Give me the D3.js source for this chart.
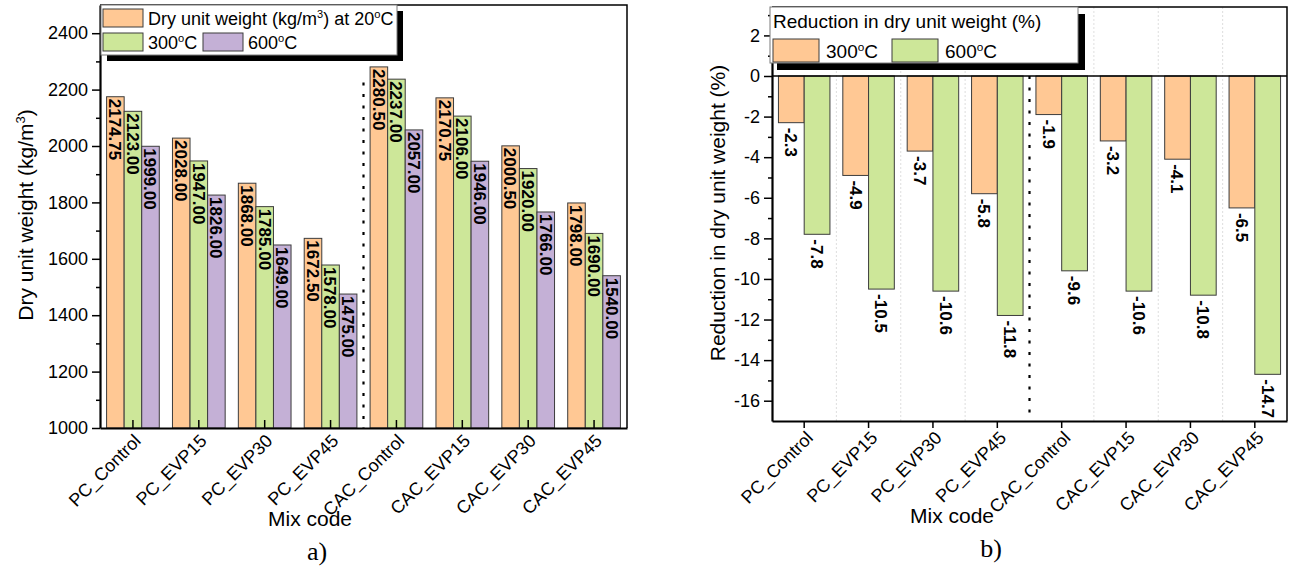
<!DOCTYPE html>
<html>
<head>
<meta charset="utf-8">
<script src="https://cdn.jsdelivr.net/npm/d3@7"></script>
<style>
  body { margin: 0; background: #fff; }
  svg { display: block; background: #fff; }
  text { font-family: "Liberation Sans", Arial, sans-serif; fill: #000; }
</style>
</head>
<body>
<svg id="chart" width="1290" height="571"></svg>
<script>
// ---- data ----
const mixCodes = ["PC_Control", "PC_EVP15", "PC_EVP30", "PC_EVP45",
                  "CAC_Control", "CAC_EVP15", "CAC_EVP30", "CAC_EVP45"];
const dryWeight20  = [2174.75, 2028.00, 1868.00, 1672.50, 2280.50, 2170.75, 2000.50, 1798.00];
const dryWeight300 = [2123.00, 1947.00, 1785.00, 1578.00, 2237.00, 2106.00, 1920.00, 1690.00];
const dryWeight600 = [1999.00, 1826.00, 1649.00, 1475.00, 2057.00, 1946.00, 1766.00, 1540.00];
const reduction300 = [-2.3, -4.9, -3.7, -5.8, -1.9, -3.2, -4.1, -6.5];
const reduction600 = [-7.8, -10.5, -10.6, -11.8, -9.6, -10.6, -10.8, -14.7];
const weightTicks    = [1000, 1200, 1400, 1600, 1800, 2000, 2200, 2400];
const weightMinor    = [1100, 1300, 1500, 1700, 1900, 2100, 2300];
const reductionTicks = [-16, -14, -12, -10, -8, -6, -4, -2, 0, 2];
const reductionMinor = [-15, -13, -11, -9, -7, -5, -3, -1, 1, 3];

const COL20 = "#FFC894", COL300 = "#CDE799", COL600 = "#C4B0D6";
const BAR_STROKE = "#3c3c3c";

const svg = d3.select("#chart");

// "20" + raised small "o" + "C"
function tempLabel(sel, number, size) {
  sel.append("tspan").text(number);
  sel.append("tspan").attr("font-size", size * 0.62).attr("dy", -size * 0.38).text("o");
  sel.append("tspan").attr("dy", size * 0.38).text("C");
}

function legendBox(x, y, w, h, off) {
  svg.append("rect").attr("x", x + off).attr("y", y + off).attr("width", w).attr("height", h).attr("fill", "#000");
  svg.append("rect").attr("x", x).attr("y", y).attr("width", w).attr("height", h)
     .attr("fill", "#fff").attr("stroke", "#7a7a7a").attr("stroke-width", 1);
}

function swatch(x, y, w, h, color) {
  svg.append("rect").attr("x", x).attr("y", y).attr("width", w).attr("height", h)
     .attr("fill", color).attr("stroke", BAR_STROKE).attr("stroke-width", 1);
}

const plainNum = d => String(d);

// ================= a) dry unit weight =================
const A = { x0: 100, x1: 627, y0: 5, y1: 428 };
const xA = d3.scaleBand().domain(mixCodes).range([A.x0, A.x1]).paddingInner(0.2).paddingOuter(0.1);
const subA = d3.scaleBand().domain([0, 1, 2]).range([0, xA.bandwidth()]);
const yA = d3.scaleLinear().domain([1000, 2500]).range([A.y1, A.y0]);

const seriesA = [dryWeight20, dryWeight300, dryWeight600];
const colorsA = [COL20, COL300, COL600];
const gA = svg.append("g");

seriesA.forEach((vals, s) => {
  const g = gA.append("g");
  g.selectAll("rect").data(vals).join("rect")
    .attr("x", (d, i) => xA(mixCodes[i]) + subA(s))
    .attr("y", d => yA(d))
    .attr("width", subA.bandwidth())
    .attr("height", d => yA(1000) - yA(d))
    .attr("fill", colorsA[s]).attr("stroke", BAR_STROKE).attr("stroke-width", 1);
  g.selectAll("text").data(vals).join("text")
    .attr("transform", (d, i) => `translate(${xA(mixCodes[i]) + subA(s) + subA.bandwidth() / 2},${yA(d) + 2}) rotate(90)`)
    .attr("dy", "0.36em")
    .attr("font-size", 17).attr("font-weight", "bold")
    .text(d => d.toFixed(2));
});

// separator between PC and CAC mixes
const sepA = xA(mixCodes[4]) - xA.step() * xA.paddingInner() / 2;
gA.append("line").attr("x1", sepA).attr("x2", sepA).attr("y1", yA(2225)).attr("y2", A.y1)
  .attr("stroke", "#000").attr("stroke-width", 2.2).attr("stroke-dasharray", "3,8.5");

// frame
gA.append("path").attr("d", `M${A.x0},${A.y0}H${A.x1}V${A.y1}`)
  .attr("fill", "none").attr("stroke", "#000").attr("stroke-width", 1.5);

// y axis
const yAxisA = gA.append("g").attr("transform", `translate(${A.x0},0)`)
  .call(d3.axisLeft(yA).tickValues(weightTicks).tickFormat(plainNum).tickSize(8).tickSizeOuter(0).tickPadding(4));
gA.append("g").attr("transform", `translate(${A.x0},0)`)
  .call(d3.axisLeft(yA).tickValues(weightMinor).tickSize(4).tickSizeOuter(0).tickFormat(""))
  .select(".domain").remove();
yAxisA.select(".domain").attr("stroke-width", 2.2);
yAxisA.selectAll("text").attr("font-size", 18);
gA.selectAll(".tick line").attr("stroke-width", 1.5);

// x axis (ticks inward)
const xAxisA = gA.append("g").attr("transform", `translate(0,${A.y1})`)
  .call(d3.axisBottom(xA).tickSize(-8).tickSizeOuter(0).tickFormat(""));
xAxisA.select(".domain").attr("stroke-width", 2.2);
xAxisA.selectAll(".tick line").attr("stroke-width", 1.5);
gA.selectAll(".xlab").data(mixCodes).join("text").attr("class", "xlab")
  .attr("transform", d => `translate(${xA(d) + xA.bandwidth() / 2 + 9},${A.y1 + 14}) rotate(-45)`)
  .attr("text-anchor", "end").attr("font-size", 18).text(d => d);

// axis titles
const yTitleA = gA.append("text").attr("transform", "translate(33,215) rotate(-90)")
  .attr("text-anchor", "middle").attr("font-size", 21);
yTitleA.append("tspan").text("Dry unit weight (kg/m");
yTitleA.append("tspan").attr("font-size", 13).attr("dy", -8).text("3");
yTitleA.append("tspan").attr("dy", 8).text(")");
gA.append("text").attr("x", 310).attr("y", 526).attr("text-anchor", "middle").attr("font-size", 21).text("Mix code");
gA.append("text").attr("x", 317).attr("y", 560).attr("text-anchor", "middle").attr("font-size", 26)
  .style("font-family", "Liberation Serif, Times New Roman, serif").text("a)");

// legend
legendBox(101, 5, 296, 50, 6);
swatch(103, 9, 40, 18, COL20);
const lgA1 = svg.append("text").attr("x", 148).attr("y", 25).attr("font-size", 18);
lgA1.append("tspan").text("Dry unit weight (kg/m");
lgA1.append("tspan").attr("font-size", 11).attr("dy", -7).text("3");
lgA1.append("tspan").attr("dy", 7).text(") at ");
tempLabel(lgA1, "20", 18);
swatch(103, 33, 40, 18, COL300);
tempLabel(svg.append("text").attr("x", 148).attr("y", 49).attr("font-size", 18), "300", 18);
swatch(203, 33, 40, 18, COL600);
tempLabel(svg.append("text").attr("x", 248).attr("y", 49).attr("font-size", 18), "600", 18);

// ================= b) reduction in dry unit weight =================
const B = { x0: 772, x1: 1287, y0: 7, y1: 421 };
const xB = d3.scaleBand().domain(mixCodes).range([B.x0, B.x1]).paddingInner(0.2).paddingOuter(0.1);
const subB = d3.scaleBand().domain([0, 1]).range([0, xB.bandwidth()]);
const yB = d3.scaleLinear().domain([-17, 3.4]).range([B.y1, B.y0]);
const gB = svg.append("g");

// light vertical grid between groups
const bounds = d3.range(1, mixCodes.length).map(k => xB(mixCodes[k]) - xB.step() * xB.paddingInner() / 2);
gB.selectAll(".grid").data(bounds.filter((b, k) => k !== 3)).join("line").attr("class", "grid")
  .attr("x1", d => d).attr("x2", d => d).attr("y1", B.y0).attr("y2", B.y1)
  .attr("stroke", "#d6d6d6").attr("stroke-width", 0.8).attr("stroke-dasharray", "2,2");

const seriesB = [reduction300, reduction600];
const colorsB = [COL20, COL300];
seriesB.forEach((vals, s) => {
  const g = gB.append("g");
  g.selectAll("rect").data(vals).join("rect")
    .attr("x", (d, i) => xB(mixCodes[i]) + subB(s))
    .attr("y", yB(0))
    .attr("width", subB.bandwidth())
    .attr("height", d => yB(d) - yB(0))
    .attr("fill", colorsB[s]).attr("stroke", BAR_STROKE).attr("stroke-width", 1);
  g.selectAll("text").data(vals).join("text")
    .attr("transform", (d, i) => `translate(${xB(mixCodes[i]) + subB(s) + subB.bandwidth() / 2},${yB(d) + 5}) rotate(90)`)
    .attr("dy", "0.36em")
    .attr("font-size", 17).attr("font-weight", "bold")
    .text(d => d.toFixed(1));
});

// separator between PC and CAC mixes
gB.append("line").attr("x1", bounds[3]).attr("x2", bounds[3]).attr("y1", yB(0)).attr("y2", B.y1)
  .attr("stroke", "#000").attr("stroke-width", 2.2).attr("stroke-dasharray", "3,8.5");

// zero line and frame
gB.append("line").attr("x1", B.x0).attr("x2", B.x1).attr("y1", yB(0)).attr("y2", yB(0))
  .attr("stroke", "#000").attr("stroke-width", 1.5);
gB.append("path").attr("d", `M${B.x0},${B.y0}H${B.x1}V${B.y1}`)
  .attr("fill", "none").attr("stroke", "#000").attr("stroke-width", 1.5);

const yAxisB = gB.append("g").attr("transform", `translate(${B.x0},0)`)
  .call(d3.axisLeft(yB).tickValues(reductionTicks).tickFormat(plainNum).tickSize(8).tickSizeOuter(0).tickPadding(4));
gB.append("g").attr("transform", `translate(${B.x0},0)`)
  .call(d3.axisLeft(yB).tickValues(reductionMinor).tickSize(4).tickSizeOuter(0).tickFormat(""))
  .select(".domain").remove();
yAxisB.select(".domain").attr("stroke-width", 2.2);
yAxisB.selectAll("text").attr("font-size", 18);

const xAxisB = gB.append("g").attr("transform", `translate(0,${B.y1})`)
  .call(d3.axisBottom(xB).tickSize(7).tickSizeOuter(0).tickFormat(""));
xAxisB.select(".domain").attr("stroke-width", 2.2);
gB.selectAll(".tick line").attr("stroke-width", 1.5);
gB.selectAll(".xlab").data(mixCodes).join("text").attr("class", "xlab")
  .attr("transform", d => `translate(${xB(d) + xB.bandwidth() / 2 + 10},${B.y1 + 18}) rotate(-45)`)
  .attr("text-anchor", "end").attr("font-size", 18).text(d => d);

gB.append("text").attr("transform", "translate(725,213) rotate(-90)")
  .attr("text-anchor", "middle").attr("font-size", 21).text("Reduction in dry unit weight (%)");
gB.append("text").attr("x", 952).attr("y", 523).attr("text-anchor", "middle").attr("font-size", 21).text("Mix code");
gB.append("text").attr("x", 991).attr("y", 557).attr("text-anchor", "middle").attr("font-size", 26)
  .style("font-family", "Liberation Serif, Times New Roman, serif").text("b)");

// legend
legendBox(770, 7, 308, 56, 7);
svg.append("text").attr("x", 773).attr("y", 28).attr("font-size", 19).text("Reduction in dry unit weight (%)");
swatch(773, 39, 46, 23, COL20);
tempLabel(svg.append("text").attr("x", 826).attr("y", 58).attr("font-size", 19), "300", 19);
swatch(892, 39, 46, 23, COL300);
tempLabel(svg.append("text").attr("x", 945).attr("y", 58).attr("font-size", 19), "600", 19);
</script>
</body>
</html>
